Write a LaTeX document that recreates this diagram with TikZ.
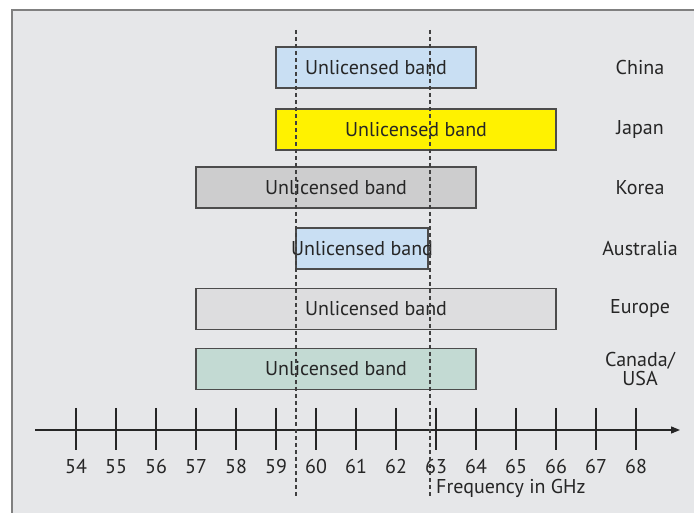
\documentclass[tikz,border=0pt]{standalone}
\usepackage{fontspec}
\setmainfont{PT Sans}
\usetikzlibrary{arrows.meta}
\definecolor{panelgray}{HTML}{E6E7E9}
\definecolor{bandblue}{HTML}{C9DFF3}
\definecolor{bandyellow}{HTML}{FFF200}
\definecolor{bandgray}{HTML}{CDCDCE}
\definecolor{bandlight}{HTML}{DDDDDF}
\definecolor{bandteal}{HTML}{C3DAD3}
\begin{document}
\begin{tikzpicture}[
    x=40pt, y=1pt,
    every node/.append style={text=black!85, font=\fontsize{20}{19}\selectfont},
    band/.style={draw=black!70, line width=1.2pt, minimum height=41pt, inner sep=0pt},
    country/.style={align=center, inner sep=0pt},
    guide/.style={black!75, line width=1.2pt, dash pattern=on 4pt off 3pt}
  ]
  \useasboundingbox (52.1,0) rectangle (69.45,512);
  \begin{scope}
    \clip (52.1,0) rectangle (69.45,512);
    \draw[fill=panelgray, draw=black!50, line width=1.5pt] (52.4,-20) rectangle (70,502);
  \end{scope}
  % bands
  \node[band, fill=bandblue, minimum width=200pt] (china) at (61.5,444.5) {Unlicensed band};
  \node[band, fill=bandyellow, minimum width=280pt] (japan) at (62.5,382.5) {Unlicensed band};
  \node[band, fill=bandgray, minimum width=280pt] (korea) at (60.5,324.5) {Unlicensed band};
  \node[band, fill=bandblue, minimum width=132pt] (australia) at (61.15,263.5) {\makebox[0pt]{Unlicensed band}};
  \node[band, fill=bandlight, minimum width=360pt] (europe) at (61.5,203) {Unlicensed band};
  \node[band, fill=bandteal, minimum width=280pt] (usa) at (60.5,143) {Unlicensed band};
  % countries
  \node[country] (chinalbl) at (68.1,444.5) {China};
  \node[country] (japanlbl) at (68.1,382.5) {Japan};
  \node[country] (korealbl) at (68.1,324.5) {Korea};
  \node[country] (australialbl) at (68.1,263.5) {Australia};
  \node[country] (europelbl) at (68.1,203) {Europe};
  \node[country] (usalbl) at (68.1,143) {Canada/\\USA};
  % frequency axis
  \coordinate (axstart) at (52.975,82);
  \coordinate (axend) at (69.1,82);
  \draw[black!85, line width=1.2pt, -{Triangle[length=9pt,width=7pt]}] (axstart) -- (axend);
  \foreach \f in {54,...,68} {
    \draw[black!85, line width=1.2pt] (\f,104) -- (\f,62);
    \node (f\f) at (\f,45) {\f};
  }
  \node[anchor=west, inner sep=0pt] (freq) at (63.0,24) {Frequency in GHz};
  % 60 GHz guides
  \draw[guide] (59.5,482) -- (59.5,15);
  \draw[guide] (62.85,482) -- (62.85,15);
\end{tikzpicture}
\end{document}
